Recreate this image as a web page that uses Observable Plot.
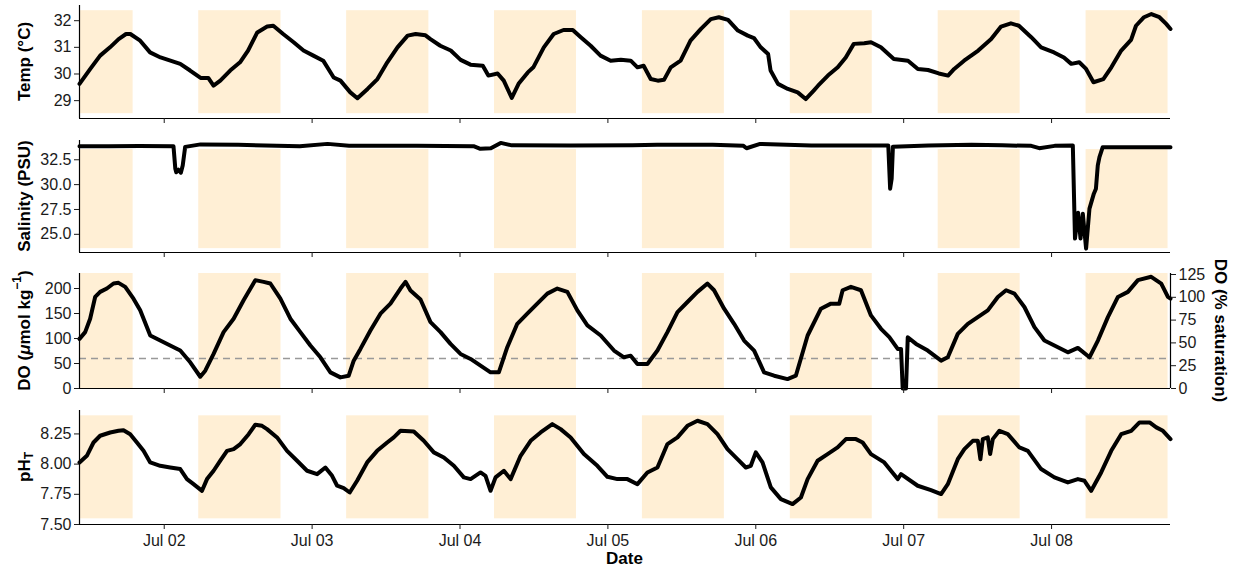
<!DOCTYPE html>
<html><head><meta charset="utf-8">
<script src="https://cdn.jsdelivr.net/npm/d3@7"></script>
<script src="https://cdn.jsdelivr.net/npm/@observablehq/plot@0.6"></script>
<style>
html,body{margin:0;padding:0;background:#fff;}
#chart{width:1239px;height:569px;position:relative;}
#chart svg{display:block;}
</style></head><body><div id="chart"></div>
<script>
// ---- data (hours since Jul 01 00:00) ----
const startHour = 10.25, endHour = 187.3;
const tickDays = ["2019-07-02","2019-07-03","2019-07-04","2019-07-05","2019-07-06","2019-07-07","2019-07-08"];
const sunriseHours = [5.6, 29.6, 53.6, 77.6, 101.6, 125.6, 149.6, 173.6];
const sunsetHours  = [18.95, 42.95, 66.95, 90.9, 114.9, 138.9, 162.9, 186.9];

const tempHours = [10.25, 12.0, 13.6, 15.2, 16.6, 17.8, 18.5, 20.1, 21.7, 23.4,
  25.0, 26.6, 28.2, 29.9, 31.15, 32.0, 33.1, 34.7, 36.3, 37.6,
  39.1, 40.7, 41.7, 43.3, 45.0, 46.6, 48.2, 49.8, 51.5, 52.6,
  54.2, 55.35, 57.0, 58.6, 60.2, 61.85, 63.5, 64.8, 66.4, 67.2,
  68.8, 70.5, 72.1, 73.7, 75.7, 76.6, 78.1, 79.1, 80.4, 81.5,
  83.0, 83.9, 85.6, 87.2, 88.8, 90.3, 91.6, 93.2, 94.8, 96.45,
  98.1, 99.7, 100.8, 101.8, 102.95, 104.1, 105.1, 106.2, 107.8, 109.4,
  111.1, 112.7, 114.0, 115.5, 117.1, 118.7, 119.7, 120.8, 122.0, 122.4,
  123.6, 125.2, 126.8, 128.1, 129.4, 130.1, 131.7, 133.3, 134.6, 135.9,
  137.6, 138.7, 140.3, 142.4, 144.7, 146.3, 147.95, 149.7, 151.2, 152.2,
  153.8, 156.1, 158.2, 159.8, 161.4, 162.7, 164.7, 166.3, 168.4, 170.0,
  171.2, 172.5, 173.6, 174.8, 176.4, 177.7, 179.3, 180.9, 181.7, 183.0,
  184.2, 185.5, 186.6, 187.3];
const tempValues = [29.63, 30.19, 30.69, 31.0, 31.31, 31.5, 31.5, 31.25, 30.81, 30.62,
  30.5, 30.38, 30.13, 29.85, 29.85, 29.56, 29.75, 30.13, 30.44, 30.88,
  31.56, 31.78, 31.81, 31.5, 31.19, 30.88, 30.69, 30.5, 29.87, 29.75,
  29.31, 29.09, 29.44, 29.81, 30.44, 31.0, 31.44, 31.5, 31.45, 31.31,
  31.06, 30.88, 30.53, 30.35, 30.31, 29.94, 30.02, 29.75, 29.10, 29.63,
  30.06, 30.25, 31.0, 31.5, 31.65, 31.65, 31.38, 31.06, 30.69, 30.5,
  30.53, 30.5, 30.25, 30.31, 29.81, 29.75, 29.78, 30.25, 30.5, 31.25,
  31.69, 32.06, 32.13, 32.03, 31.63, 31.44, 31.35, 31.0, 30.75, 30.13,
  29.63, 29.44, 29.31, 29.06, 29.38, 29.56, 29.94, 30.25, 30.62, 31.13,
  31.15, 31.19, 31.0, 30.56, 30.5, 30.19, 30.15, 30.02, 29.94, 30.19,
  30.5, 30.88, 31.31, 31.78, 31.9, 31.81, 31.38, 31.0, 30.81, 30.62,
  30.38, 30.44, 30.19, 29.69, 29.81, 30.25, 30.88, 31.28, 31.81, 32.13,
  32.25, 32.13, 31.88, 31.69];

const salHours = [10.25, 15, 20, 25.5, 25.8, 25.95, 26.3, 26.7, 27.0, 27.4,
  29.9, 36, 46, 50.5, 54, 65, 74.2, 75.3, 77.0, 78.6,
  80.4, 90, 100, 104, 113, 118, 118.5, 120.7, 129, 141.5,
  141.8, 142.05, 142.25, 148, 155, 160, 164.7, 166, 168.5, 171.45,
  171.8, 172.3, 172.7, 173.07, 173.6, 174.15, 174.86, 175.2, 175.5, 175.77,
  176.3, 187.3];
const salValues = [33.87, 33.87, 33.88, 33.87, 31.6, 31.25, 31.5, 31.2, 31.93, 33.8,
  34.05, 34.0, 33.87, 34.1, 33.92, 33.9, 33.87, 33.6, 33.65, 34.2,
  33.95, 33.94, 33.95, 34.0, 34.0, 33.9, 33.66, 34.1, 33.94, 33.94,
  29.59, 30.6, 33.8, 33.94, 34.0, 33.95, 33.9, 33.67, 33.9, 33.94,
  24.57, 27.18, 24.57, 27.08, 23.56, 27.58, 29.09, 29.59, 31.93, 32.76,
  33.77, 33.77];

const doHours = [10.25, 11.17, 11.98, 12.79, 13.6, 14.69, 15.77, 16.58, 17.67, 19.01,
  20.1, 21.73, 23.35, 24.97, 26.6, 28.22, 29.85, 30.66, 32.01, 33.63,
  35.26, 36.88, 38.78, 40.13, 41.22, 42.85, 44.47, 46.09, 47.72, 49.34,
  50.97, 52.59, 53.94, 54.75, 55.84, 57.46, 59.09, 60.71, 62.34, 63.15,
  63.96, 65.59, 67.21, 68.84, 70.46, 72.08, 73.71, 75.33, 76.96, 78.3,
  79.67, 81.29, 82.92, 84.54, 86.17, 87.79, 89.42, 91.04, 92.67, 94.83,
  96.99, 98.61, 99.7, 100.79, 102.41, 104.04, 105.66, 107.29, 108.91, 110.54,
  112.16, 113.23, 114.86, 116.48, 118.1, 119.73, 121.35, 122.98, 125.15, 126.5,
  127.32, 128.41, 130.57, 132.19, 133.54, 134.09, 135.44, 137.07, 138.69, 140.32,
  141.67, 143.03, 143.57, 143.84, 144.38, 144.66, 146.01, 147.91, 150.07, 151.16,
  152.78, 154.41, 156.03, 157.65, 159.28, 160.62, 161.97, 163.59, 165.22, 166.84,
  168.46, 170.64, 172.27, 174.15, 175.52, 177.14, 178.77, 180.39, 182.01, 184.17,
  185.8, 186.88, 187.3];
const doValues = [99.3, 112.7, 139.6, 183.1, 193.2, 200, 210, 211.3, 203.3, 179.7,
  156.3, 106, 95.9, 85.9, 75.9, 52.4, 23.5, 35.6, 69.1, 112.7,
  139.6, 176.5, 216.7, 213.3, 210, 179.7, 139.6, 112.7, 85.9, 62.4,
  32.3, 22.2, 25.6, 55.7, 79.2, 116, 149.6, 169.7, 199.9, 213.3,
  196, 178, 132.8, 112.7, 89.2, 69.1, 59.1, 45.7, 32.3, 32.3,
  82.6, 129.4, 149.6, 169.7, 189.8, 199.9, 193.2, 156.3, 126.1, 106,
  75.9, 62.4, 65.7, 49, 49, 75.9, 112.7, 152.9, 173, 193.2,
  209.9, 196.5, 159.6, 129.4, 95.9, 75.9, 32.3, 25.6, 18.8, 25.6,
  60, 106, 159.6, 169.7, 169.7, 196.5, 203.3, 196.5, 146.2, 119.4,
  102.6, 79.2, 79.2, 0, 0, 102.6, 89.2, 75.9, 55.7, 62.4,
  109.3, 129.4, 142.8, 156.3, 183.1, 196.5, 189.8, 163, 122.7, 95.9,
  85.9, 72.4, 81.2, 62.4, 95.9, 142.8, 183.1, 193.2, 216.7, 223.4,
  209.9, 183.1, 179.7];

const phHours = [10.25, 11.44, 12.52, 13.6, 15.23, 16.58, 17.39, 18.48, 19.57, 20.64,
  21.73, 23.35, 24.97, 26.6, 27.69, 28.76, 30.13, 30.94, 32.01, 33.1,
  34.19, 35.26, 36.35, 37.7, 38.78, 39.87, 40.68, 42.31, 43.93, 45.56,
  47.18, 48.81, 50.15, 51.24, 52.06, 53.13, 54.1, 55.3, 56.93, 58.55,
  60.18, 61.25, 62.34, 64.5, 66.12, 67.75, 69.37, 71.0, 72.62, 73.71,
  75.33, 76.14, 76.96, 77.77, 79.12, 80.21, 81.83, 83.46, 85.08, 86.98,
  88.33, 89.95, 92.11, 94.29, 95.92, 97.54, 99.16, 100.79, 102.41, 104.04,
  105.66, 107.29, 108.91, 110.54, 112.16, 113.78, 115.41, 117.03, 118.38, 119.19,
  120.0, 121.09, 122.44, 124.07, 125.97, 127.32, 128.41, 130.03, 131.65, 133.28,
  134.63, 136.25, 137.34, 138.69, 140.85, 143.03, 143.57, 146.28, 148.43, 150.07,
  151.16, 152.78, 153.85, 155.22, 156.03, 156.45, 156.84, 157.65, 158.03, 158.46,
  159.53, 160.9, 162.78, 164.15, 166.3, 168.46, 170.64, 172.27, 173.34, 174.43,
  176.05, 177.68, 179.3, 180.93, 182.27, 183.9, 184.99, 186.07, 187.3];
const phValues = [8.014, 8.069, 8.179, 8.235, 8.262, 8.276, 8.281, 8.248, 8.179, 8.110,
  8.014, 7.986, 7.972, 7.959, 7.876, 7.834, 7.779, 7.876, 7.945, 8.028,
  8.110, 8.124, 8.166, 8.248, 8.326, 8.317, 8.290, 8.221, 8.110, 8.028,
  7.945, 7.917, 7.972, 7.903, 7.821, 7.801, 7.765, 7.862, 8.014, 8.110,
  8.179, 8.221, 8.276, 8.270, 8.193, 8.097, 8.055, 7.986, 7.890, 7.876,
  7.931, 7.903, 7.779, 7.890, 7.945, 7.876, 8.069, 8.193, 8.262, 8.331,
  8.290, 8.221, 8.083, 7.986, 7.895, 7.876, 7.876, 7.834, 7.931, 7.972,
  8.166, 8.221, 8.317, 8.359, 8.331, 8.248, 8.124, 8.041, 7.972, 7.986,
  8.097, 8.014, 7.807, 7.710, 7.669, 7.724, 7.876, 8.028, 8.083, 8.138,
  8.207, 8.207, 8.179, 8.083, 8.014, 7.876, 7.917, 7.821, 7.785, 7.752,
  7.834, 8.041, 8.124, 8.193, 8.193, 8.041, 8.207, 8.221, 8.083, 8.207,
  8.276, 8.248, 8.138, 8.110, 7.959, 7.890, 7.848, 7.876, 7.862, 7.779,
  7.931, 8.110, 8.248, 8.276, 8.345, 8.345, 8.304, 8.276, 8.207];

const tempTicks = [29, 30, 31, 32];
const salTicks = [25, 27.5, 30, 32.5];
const doTicks = [0, 50, 100, 150, 200];
const doPctTicks = [0, 25, 50, 75, 100, 125];
const phTicks = [7.5, 7.75, 8.0, 8.25];
const doPerPct = 1.824;          // µmol/kg per % saturation
const hypoxiaThreshold = 60;     // µmol/kg

// ---- build ----
const base = Date.UTC(2019, 6, 1);
const toDate = h => new Date(base + h * 3600e3);
const zipSeries = (hs, vs) => hs.map((h, i) => ({t: toDate(h), v: vs[i]}));
const xDomain = [toDate(startHour), toDate(endHour)];
const bands = sunriseHours.map((s, i) => ({x1: toDate(s), x2: toDate(sunsetHours[i])}));
const xTicks = tickDays.map(d => new Date(d + "T00:00:00Z"));
const fmtX = d3.utcFormat("%b %d");
const FONT = "'Liberation Sans', Arial, Helvetica, sans-serif";
const W = 1239, ML = 79, MR = 69;

function panel({series, yDomain, bandRange, yTicks, yFormat, height, marginTop, marginBottom, labels, extra = [], right = []}) {
  const bandData = bands.map(b => ({...b, y1: bandRange[0], y2: bandRange[1]}));
  const svg = Plot.plot({
    width: W, height, marginLeft: ML, marginRight: MR, marginTop, marginBottom,
    style: {fontFamily: FONT, fontSize: "16px", color: "#1a1a1a", background: "#fff", overflow: "visible"},
    x: {type: "utc", domain: xDomain},
    y: {domain: yDomain},
    marks: [
      Plot.rect(bandData, {x1: "x1", x2: "x2", y1: "y1", y2: "y2", fill: "#FFEFD5", clip: true}),
      ...extra,
      Plot.line(series, {x: "t", y: "v", stroke: "#000", strokeWidth: 4, strokeLinejoin: "round"}),
      Plot.ruleY([yDomain[0]], {stroke: "#000", strokeWidth: 1.2}),
      Plot.ruleX([xDomain[0]], {stroke: "#000", strokeWidth: 1.2}),
      Plot.axisY(yTicks, {anchor: "left", tickSize: 5, tickPadding: 3, tickFormat: yFormat, label: null}),
      Plot.axisX(xTicks, {anchor: "bottom", tickSize: 5, tickPadding: 5, tickFormat: labels ? fmtX : () => "", label: null}),
      ...right
    ]
  });
  d3.select(svg).selectAll("text").style("font-size", "16px").style("font-family", FONT).style("fill", "#1a1a1a");
  return svg;
}

function addTitle(svg, x, cy, rot, parts) {
  const t = d3.select(svg).append("text")
    .attr("transform", `translate(${x},${cy}) rotate(${rot})`)
    .attr("text-anchor", "middle")
    .attr("dominant-baseline", "central")
    .style("font-family", FONT).style("font-weight", "bold").style("font-size", "17px").style("fill", "#000");
  for (const p of parts) {
    const s = t.append("tspan").text(p.text);
    if (p.italic) s.style("font-style", "italic");
    if (p.dy) s.attr("dy", p.dy);
    if (p.size) s.style("font-size", p.size + "px");
  }
  return t;
}

const chart = document.getElementById("chart");

// Temperature
const p1 = panel({series: zipSeries(tempHours, tempValues), yDomain: [28.33, 32.57], bandRange: [28.51, 32.375],
  yTicks: tempTicks, yFormat: d3.format("d"), height: 136, marginTop: 5, marginBottom: 18, labels: false});
addTitle(p1, 24, 5 + 113/2, -90, [{text: "Temp (°C)"}]);
chart.appendChild(p1);

// Salinity
const p2 = panel({series: zipSeries(salHours, salValues), yDomain: [23.17, 34.44], bandRange: [23.56, 33.53],
  yTicks: salTicks, yFormat: d3.format(".1f"), height: 134, marginTop: 4, marginBottom: 18, labels: false});
addTitle(p2, 24, 4 + 112/2, -90, [{text: "Salinity (PSU)"}]);
chart.appendChild(p2);

// Dissolved oxygen
const p3 = panel({series: zipSeries(doHours, doValues), yDomain: [0, 230], bandRange: [0, 230],
  yTicks: doTicks, yFormat: d3.format("d"), height: 135, marginTop: 3, marginBottom: 17, labels: false,
  extra: [Plot.ruleY([hypoxiaThreshold], {stroke: "#999", strokeWidth: 1.6, strokeDasharray: "7,5"})],
  right: [
    Plot.ruleX([xDomain[1]], {stroke: "#000", strokeWidth: 1.2}),
    Plot.axisY(doPctTicks.map(p => p * doPerPct), {anchor: "right", tickSize: 5, tickPadding: 3,
      tickFormat: d => String(Math.round(d / doPerPct)), label: null})
  ]});
addTitle(p3, 24, 3 + 115/2, -90, [{text: "DO ("}, {text: "μ", italic: true}, {text: "mol kg"},
  {text: "−1", dy: -7, size: 12}, {text: ")", dy: 7}]);
addTitle(p3, 1221, 3 + 115/2, 90, [{text: "DO (% saturation)"}]);
chart.appendChild(p3);

// pH
const p4 = panel({series: zipSeries(phHours, phValues), yDomain: [7.5, 8.444], bandRange: [7.547, 8.40],
  yTicks: phTicks, yFormat: d3.format(".2f"), height: 164, marginTop: 5, marginBottom: 45, labels: true});
addTitle(p4, 24, 5 + 114/2, -90, [{text: "pH"}, {text: "T", dy: 5, size: 12}]);
addTitle(p4, (ML + W - MR) / 2, 153, 0, [{text: "Date"}]);
chart.appendChild(p4);
</script>
</body></html>
